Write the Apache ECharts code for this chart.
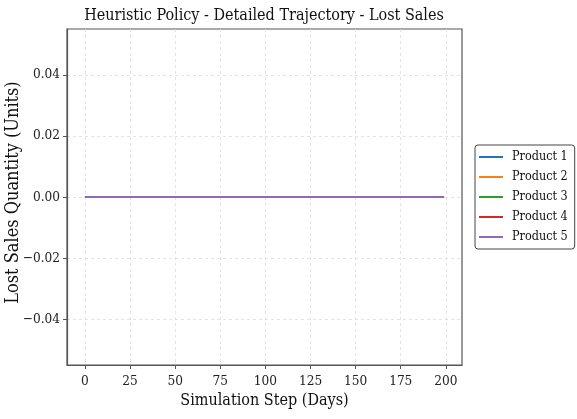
<!DOCTYPE html>
<html>
<head>
<meta charset="utf-8">
<script src="https://cdn.jsdelivr.net/npm/echarts@6/dist/echarts.min.js"></script>
<style>
  html, body { margin: 0; padding: 0; background: #fff; }
  #chart { width: 577px; height: 419px; }
</style>
</head>
<body>
<div id="chart"></div>
<script>
// lost sales per product: zero over the whole run (step 0 .. 199)
var steps = [0, 199];
var product1 = [0, 0];
var product2 = [0, 0];
var product3 = [0, 0];
var product4 = [0, 0];
var product5 = [0, 0];
var productNames = ['Product 1', 'Product 2', 'Product 3', 'Product 4', 'Product 5'];
var xTicks = [0, 25, 50, 75, 100, 125, 150, 175, 200];
var yTicks = [-0.04, -0.02, 0, 0.02, 0.04];

var colors = ['#1f77b4', '#ff7f0e', '#2ca02c', '#d62728', '#9467bd'];
var FONT = '"DejaVu Serif Condensed", "Liberation Serif", serif';

function pairs(vals) {
  return steps.map(function(s, i) { return [s, vals[i]]; });
}

var allValues = [product1, product2, product3, product4, product5];
var series = allValues.map(function(vals, i) {
  return {
    name: productNames[i],
    type: 'line',
    data: pairs(vals),
    showSymbol: false,
    lineStyle: { width: 2, color: colors[i] },
    itemStyle: { color: colors[i] },
    z: 2 + i,
    animation: false
  };
});

var chart = echarts.init(document.getElementById('chart'));
chart.setOption({
  animation: false,
  title: {
    text: 'Heuristic Policy - Detailed Trajectory - Lost Sales',
    left: 259, top: 3, textAlign: 'center',
    textStyle: { fontFamily: FONT, fontSize: 16, fontWeight: 'normal', color: '#111' }
  },
  grid: {
    left: 67, right: 115, top: 29, bottom: 54,
    outerBoundsMode: 'none', containLabel: false,
    show: true, borderColor: '#555', borderWidth: 1.2, backgroundColor: '#fff'
  },
  legend: {
    orient: 'vertical',
    left: 475, top: 145,
    padding: [5, 7, 5, 4],
    itemGap: 6,
    itemWidth: 24, itemHeight: 2,
    icon: 'rect',
    borderColor: '#444', borderWidth: 1, borderRadius: 3,
    backgroundColor: '#fff',
    textStyle: { fontFamily: FONT, fontSize: 12.5, color: '#111', lineHeight: 14, padding: [0, 0, 0, 4] },
    data: productNames
  },
  xAxis: {
    type: 'value',
    min: -9.95, max: 208.95,
    name: 'Simulation Step (Days)',
    nameLocation: 'middle', nameGap: 28, nameMoveOverlap: false,
    nameTextStyle: { fontFamily: FONT, fontSize: 16, color: '#111' },
    axisLine: { show: true, onZero: false, lineStyle: { color: '#555', width: 1.2 } },
    axisTick: { show: true, length: 4, customValues: xTicks, lineStyle: { color: '#555' } },
    axisLabel: { customValues: xTicks, margin: 9, fontFamily: FONT, fontSize: 13.5, color: '#222' },
    splitLine: { show: true, lineStyle: { color: '#ddd', type: [3, 3], width: 0.8 } }
  },
  yAxis: {
    type: 'value',
    min: -0.055, max: 0.055,
    name: 'Lost Sales Quantity (Units)',
    nameLocation: 'middle', nameGap: 45, nameMoveOverlap: false,
    nameTextStyle: { fontFamily: FONT, fontSize: 18, color: '#111', padding: [0, 0, 0, 9] },
    axisLine: { show: true, onZero: false, lineStyle: { color: '#555', width: 1.2 } },
    axisTick: { show: true, length: 4, customValues: yTicks, lineStyle: { color: '#555' } },
    axisLabel: {
      customValues: yTicks, margin: 7, fontFamily: FONT, fontSize: 13.5, color: '#222',
      formatter: function(v) { return v.toFixed(2).replace('-', '\u2212'); }
    },
    splitLine: { show: true, lineStyle: { color: '#ddd', type: [3, 3], width: 0.8 } }
  },
  series: series
});
</script>
</body>
</html>
